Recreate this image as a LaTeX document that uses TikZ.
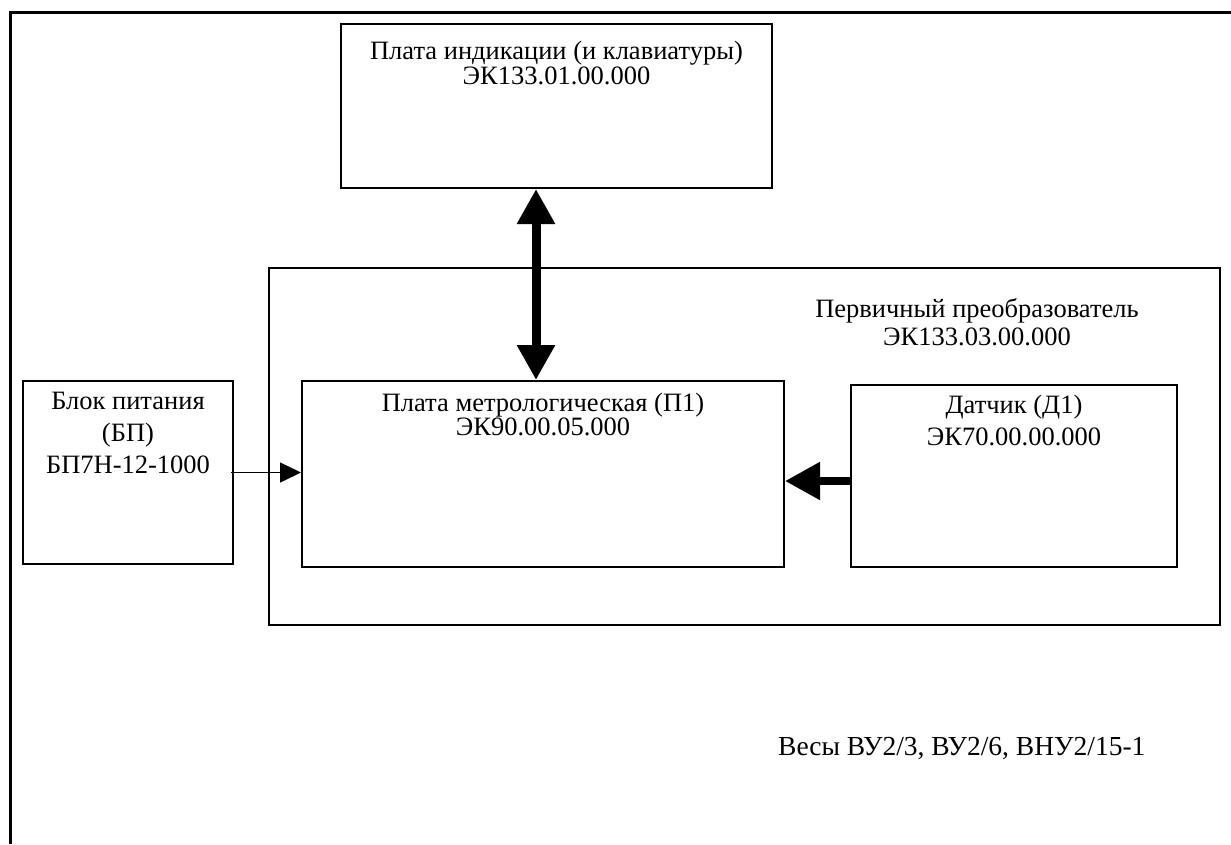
\documentclass[tikz,border=0pt]{standalone}
\usepackage{fontspec}
\setmainfont{Liberation Serif}
\usetikzlibrary{arrows.meta}
\begin{document}
\begin{tikzpicture}[x=1pt,y=-1pt,
  box/.style={draw,line width=2pt,minimum width=#1,inner sep=0pt,rectangle},
  txt/.style={font=\fontsize{26.5}{25}\selectfont,align=center,inner sep=0pt,anchor=north},
  thick arrow/.style={line width=8pt,-{Triangle[width=36pt,length=35pt]}},
  dbl arrow/.style={line width=9pt,{Triangle[width=36pt,length=35pt]}-{Triangle[width=36pt,length=35pt]}},
  thin arrow/.style={line width=1.5pt,-{Triangle[width=20pt,length=21pt]}}]
\useasboundingbox (0,0) rectangle (1231,844);
\fill[white] (0,0) rectangle (1231,844);
% outer frame
\draw[line width=3pt] (10,844) -- (10,12) -- (1231,12);
% boxes
\node[box=431pt,minimum height=164pt] (ind) at (556.5,106) {};
\node[box=951pt,minimum height=357pt] (prim) at (744.5,446.5) {};
\node[box=210pt,minimum height=183pt] (bp) at (128,472.5) {};
\node[box=482pt,minimum height=186pt] (met) at (543,474) {};
\node[box=326pt,minimum height=182pt] (dat) at (1014,476) {};
% texts
\node[txt] (tind) at (556.5,41) {Плата индикации (и клавиатуры)\\ЭК133.01.00.000};
\node[txt,font=\fontsize{26.5}{28}\selectfont] (tprim) at (977,298) {Первичный преобразователь\\ЭК133.03.00.000};
\node[txt,font=\fontsize{26.5}{24}\selectfont] (tmet) at (543,393) {Плата метрологическая (П1)\\ЭК90.00.05.000};
\node[txt,font=\fontsize{26.5}{32}\selectfont] (tdat) at (1014,395) {Датчик (Д1)\\ЭК70.00.00.000};
\node[txt,font=\fontsize{26.5}{32}\selectfont] (tbp) at (128,392) {Блок питания\\(БП)\\БП7Н-12-1000};
\node[font=\fontsize{27.5}{27.5}\selectfont,anchor=west,inner sep=0pt] (ves) at (778,748) {Весы ВУ2/3, ВУ2/6, ВНУ2/15-1};
% connectors
\draw[dbl arrow] ([xshift=-20.5pt]ind.south) -- ([xshift=-7pt]met.north);
\draw[thin arrow] ([xshift=-3pt]bp.east) -- (bp.east -| met.west);
\draw[thick arrow] ([yshift=-5pt]dat.west) -- ([yshift=-5pt]dat.west -| met.east);
\end{tikzpicture}
\end{document}
